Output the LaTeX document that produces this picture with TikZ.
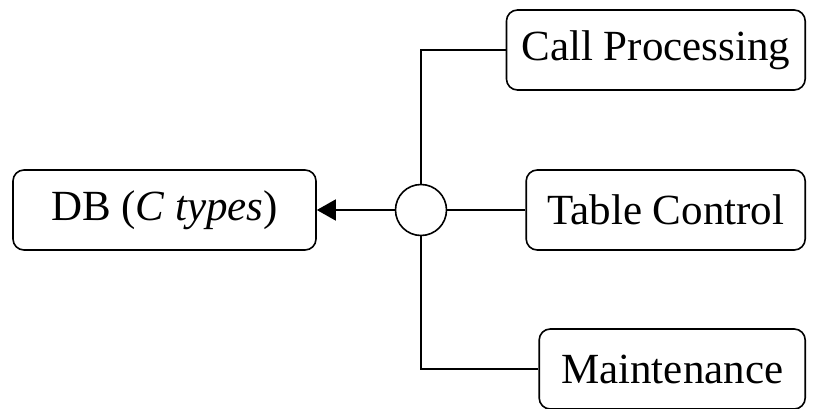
\documentclass[tikz,border=0pt]{standalone}
\usepackage{fontspec}
\setmainfont{Liberation Serif}
\usetikzlibrary{arrows.meta}
\usetikzlibrary{positioning}

\begin{document}
\begin{tikzpicture}[x=1pt,y=-1pt,line width=1.6pt,
  unit/.style={draw,rounded corners=11pt,minimum height=80pt,inner xsep=15pt,
    font=\fontsize{43}{48}\selectfont},
  joint/.style={draw,circle,minimum size=51pt,inner sep=0pt}]
\useasboundingbox (0,0) rectangle (821,409);

\node[unit,minimum width=303pt] (db) at (164.5,210) {DB (\textit{C types})};
\node[joint] (hub) at (421,210) {};
\node[unit,anchor=east,minimum width=294pt] (call) at (806,50) {Call Processing};
\node[unit,anchor=east,minimum width=279pt] (table) at (806,210) {Table Control};
\node[unit,anchor=east,minimum width=266pt] (maint) at (806,369) {Maintenance};

\draw[-{Triangle[length=19pt,width=21pt]}] (hub) -- (db);
\draw (hub) -- (table);
\draw (hub.north) |- (call.west);
\draw (hub.south) |- (maint.west);
\end{tikzpicture}
\end{document}
